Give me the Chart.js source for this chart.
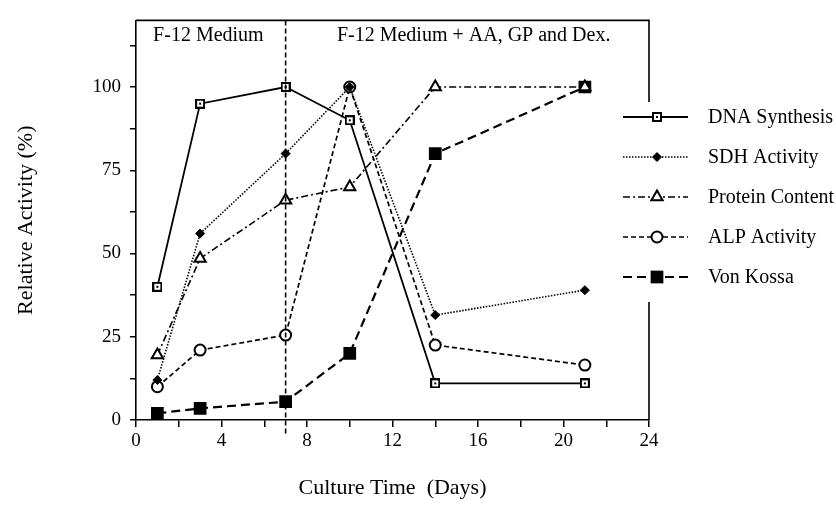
<!DOCTYPE html>
<html>
<head>
<meta charset="utf-8">
<script src="https://cdn.jsdelivr.net/npm/chart.js@4.4.0/dist/chart.umd.min.js"></script>
<style>
html, body { margin: 0; padding: 0; background: #fff; }
</style>
</head>
<body>
<canvas id="myChart" width="836" height="507"></canvas>
<script>
var days = [1, 3, 7, 10, 14, 21];
var dnaSynthesis = [40, 95, 100, 90, 11, 11];
var sdhActivity = [12, 56, 80, 100, 31.5, 39];
var proteinContent = [19.5, 48.5, 66, 70, 100, 100];
var alpActivity = [10, 21, 25.5, 100, 22.5, 16.5];
var vonKossa = [2, 3.5, 5.5, 20, 80, 100];
var seriesNames = ["DNA Synthesis", "SDH Activity", "Protein Content", "ALP Activity", "Von Kossa"];
var mediumChangeDay = 7;
var periodLabels = ["F-12 Medium", "F-12 Medium + AA, GP and Dex."];
var periodLabelDays = [0.8, 9.4];

var serif = "'Liberation Serif', 'Times New Roman', serif";

function toPoints(values) {
  return days.map(function (d, i) { return { x: d, y: values[i] }; });
}

// small open square with a dot inside, for DNA Synthesis
var dnaMark = document.createElement("canvas");
dnaMark.width = 10;
dnaMark.height = 10;
(function () {
  var c = dnaMark.getContext("2d");
  c.fillStyle = "#fff";
  c.fillRect(1, 1, 8, 8);
  c.strokeStyle = "#000";
  c.lineWidth = 2;
  c.strokeRect(1, 1, 8, 8);
  c.fillStyle = "#000";
  c.fillRect(4, 4, 2, 2);
})();

var ctx = document.getElementById("myChart");

var extras = {
  id: "extras",
  afterDraw: function (chart) {
    var c = chart.ctx;
    var a = chart.chartArea;
    var xs = chart.scales.x;
    c.save();
    c.strokeStyle = "#000";
    c.lineWidth = 1.6;
    // top and right frame, open where the legend sits
    c.beginPath();
    c.moveTo(a.left, a.top);
    c.lineTo(a.right, a.top);
    c.lineTo(a.right, 102);
    c.moveTo(a.right, 302);
    c.lineTo(a.right, a.bottom);
    c.stroke();

    // medium change marker
    var vx = xs.getPixelForValue(mediumChangeDay);
    c.setLineDash([5, 3]);
    c.beginPath();
    c.moveTo(vx, a.top);
    c.lineTo(vx, a.bottom + 14);
    c.stroke();
    c.setLineDash([]);

    c.fillStyle = "#000";
    c.font = "20px " + serif;
    c.textBaseline = "alphabetic";
    c.textAlign = "left";
    periodLabels.forEach(function (t, i) {
      c.fillText(t, xs.getPixelForValue(periodLabelDays[i]), 41);
    });

    // legend
    var rowY = [117, 157, 197, 237, 277];
    c.textBaseline = "middle";
    chart.data.datasets.forEach(function (ds, i) {
      var y = rowY[i];
      c.strokeStyle = "#000";
      c.lineWidth = ds.borderWidth;
      c.setLineDash(ds.borderDash || []);
      c.beginPath();
      c.moveTo(623, y);
      c.lineTo(688, y);
      c.stroke();
      c.setLineDash([]);
      c.fillStyle = ds.pointBackgroundColor;
      c.strokeStyle = ds.pointBorderColor;
      c.lineWidth = ds.pointBorderWidth;
      Chart.helpers.drawPoint(c, {
        pointStyle: ds.pointStyle,
        radius: ds.pointRadius,
        rotation: 0,
        borderWidth: ds.pointBorderWidth
      }, 657, y);
      c.fillStyle = "#000";
      c.fillText(ds.label, 708, y + 1);
    });
    c.restore();
  }
};

var myChart = new Chart(ctx, {
  type: "line",
  data: {
    datasets: [
      {
        label: seriesNames[0],
        data: toPoints(dnaSynthesis),
        borderColor: "#000",
        borderWidth: 1.8,
        pointStyle: dnaMark,
        pointRadius: 5,
        pointBackgroundColor: "#fff",
        pointBorderColor: "#000",
        pointBorderWidth: 0
      },
      {
        label: seriesNames[1],
        data: toPoints(sdhActivity),
        borderColor: "#000",
        borderWidth: 1.6,
        borderDash: [1.5, 1.5],
        pointStyle: "rectRot",
        pointRadius: 4.5,
        pointBackgroundColor: "#000",
        pointBorderColor: "#000",
        pointBorderWidth: 1
      },
      {
        label: seriesNames[2],
        data: toPoints(proteinContent),
        borderColor: "#000",
        borderWidth: 1.6,
        borderDash: [7, 3, 2, 3],
        pointStyle: "triangle",
        pointRadius: 6.5,
        pointBackgroundColor: "#fff",
        pointBorderColor: "#000",
        pointBorderWidth: 2
      },
      {
        label: seriesNames[3],
        data: toPoints(alpActivity),
        borderColor: "#000",
        borderWidth: 1.7,
        borderDash: [5, 3],
        pointStyle: "circle",
        pointRadius: 5.5,
        pointBackgroundColor: "#fff",
        pointBorderColor: "#000",
        pointBorderWidth: 2
      },
      {
        label: seriesNames[4],
        data: toPoints(vonKossa),
        borderColor: "#000",
        borderWidth: 2.2,
        borderDash: [9, 5],
        pointStyle: "rect",
        pointRadius: 9,
        pointBackgroundColor: "#000",
        pointBorderColor: "#000",
        pointBorderWidth: 0
      }
    ]
  },
  options: {
    responsive: false,
    animation: false,
    layout: { padding: { left: 0, top: 9, right: 187, bottom: 0 } },
    plugins: {
      legend: { display: false },
      tooltip: { enabled: false }
    },
    scales: {
      x: {
        type: "linear",
        min: 0,
        max: 24,
        afterFit: function (s) { s.height = 87; },
        ticks: {
          stepSize: 2,
          autoSkip: false,
          maxRotation: 0,
          padding: 3,
          color: "#000",
          font: { family: serif, size: 19 },
          callback: function (v) { return v % 4 === 0 ? v : ""; }
        },
        grid: { drawOnChartArea: false, tickLength: 7, color: "#000", lineWidth: 1.5 },
        border: { display: true, color: "#000", width: 1.6 },
        title: {
          display: true,
          text: "Culture Time  (Days)",
          color: "#000",
          font: { family: serif, size: 22 },
          padding: { top: 0, bottom: 6 }
        }
      },
      y: {
        min: 0,
        max: 120,
        afterFit: function (s) { s.width = 136; },
        afterBuildTicks: function (s) {
          s.ticks = s.ticks.filter(function (t) { return t.value % 12.5 === 0; });
        },
        ticks: {
          stepSize: 12.5,
          autoSkip: false,
          padding: 9,
          color: "#000",
          font: { family: serif, size: 19 },
          callback: function (v) { return (v % 25 === 0 && v <= 100) ? v : ""; }
        },
        grid: { drawOnChartArea: false, tickLength: 6, color: "#000", lineWidth: 1.5 },
        border: { display: true, color: "#000", width: 1.6 },
        title: {
          display: true,
          text: "Relative Activity (%)",
          color: "#000",
          font: { family: serif, size: 22 },
          padding: { top: 13, bottom: 0 }
        }
      }
    }
  },
  plugins: [extras]
});
</script>
</body>
</html>
